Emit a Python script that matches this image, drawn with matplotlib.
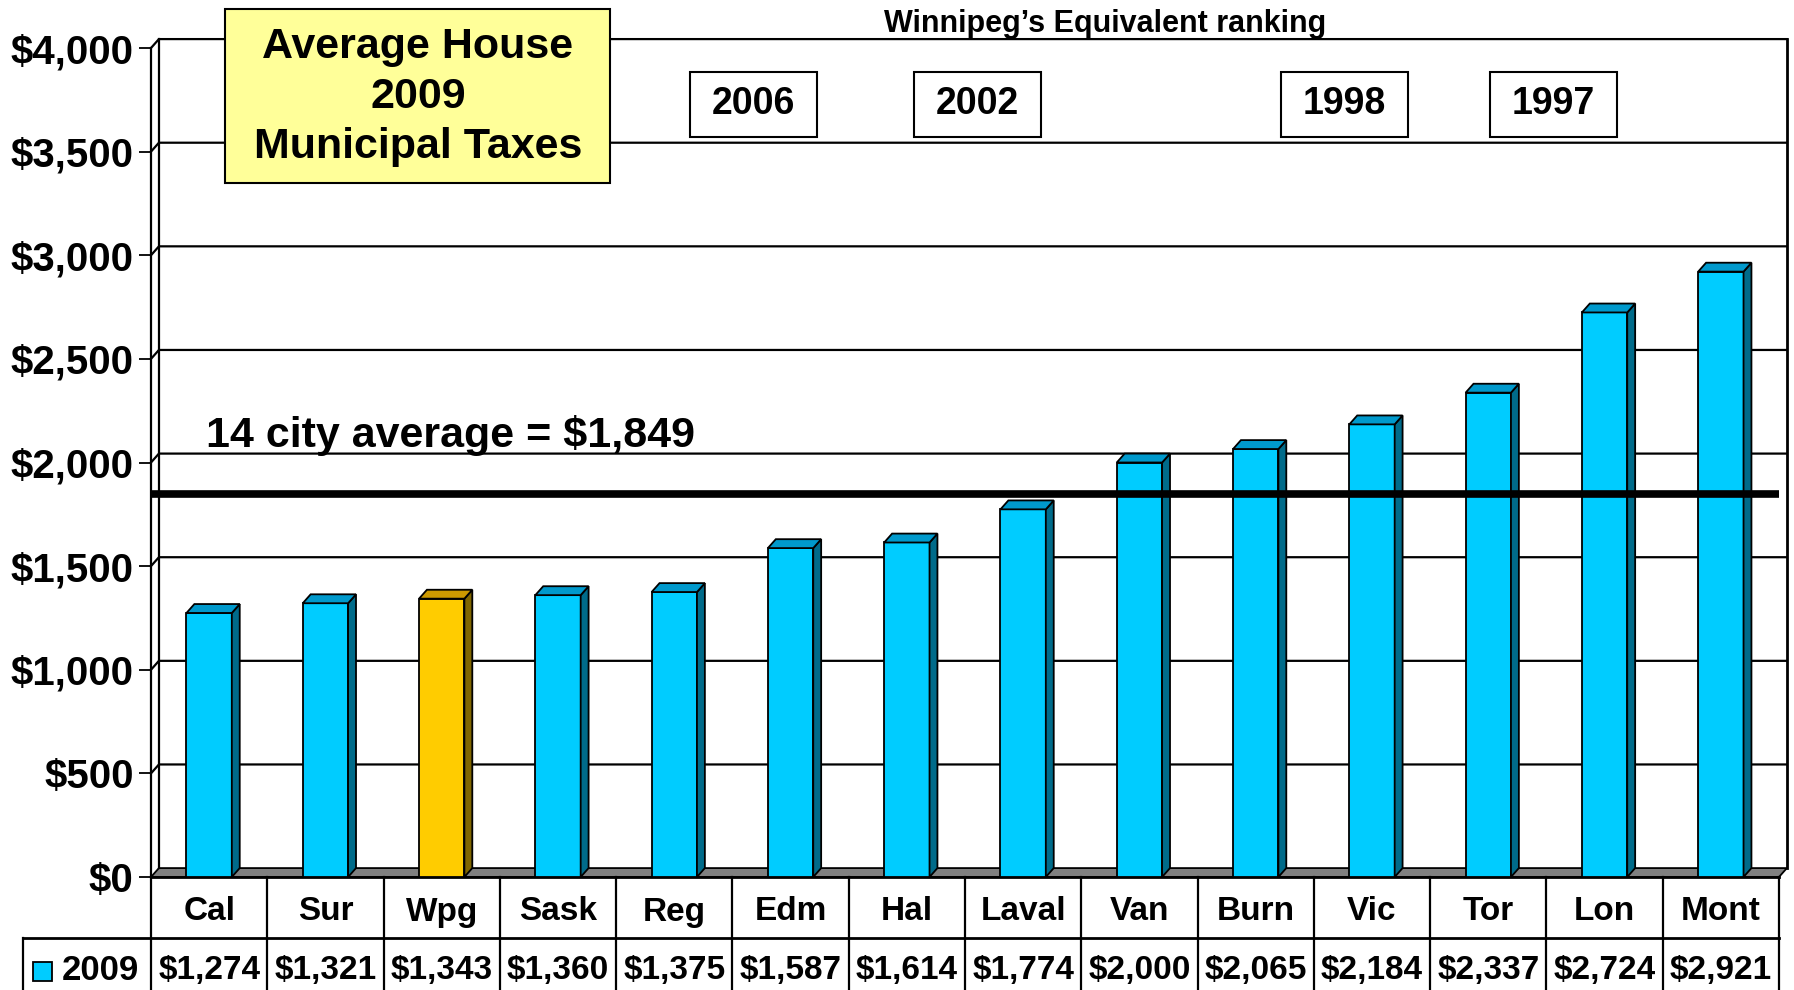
import matplotlib
matplotlib.use("Agg")
import matplotlib.pyplot as plt
from matplotlib.patches import Polygon, Rectangle

plt.rcParams['font.family'] = ['Liberation Sans', 'DejaVu Sans']
plt.rcParams['font.weight'] = 'bold'

# data
cities = ["Cal", "Sur", "Wpg", "Sask", "Reg", "Edm", "Hal", "Laval",
          "Van", "Burn", "Vic", "Tor", "Lon", "Mont"]
taxes_2009 = [1274, 1321, 1343, 1360, 1375, 1587, 1614, 1774,
              2000, 2065, 2184, 2337, 2724, 2921]
city_average = 1849
rank_years = ["2006", "2002", "1998", "1997"]
y_ticks = [0, 500, 1000, 1500, 2000, 2500, 3000, 3500, 4000]

# colours
cyan_front, cyan_side, cyan_top = "#00CCFF", "#006B8A", "#0099CC"
gold_front, gold_side, gold_top = "#FFCC00", "#806600", "#CC9900"

fig = plt.figure(figsize=(17.94, 9.90), dpi=100)
ax = fig.add_axes([151 / 1794, 113 / 990, 1628 / 1794, 829 / 990])
n = len(cities)
ax.set_xlim(-0.5, n - 0.5)
ax.set_ylim(0, 4000)
for s in ax.spines.values():
    s.set_visible(False)

# 3d depth offsets (data units)
dx, dy = 0.068, 43
xl, xr = -0.5, n - 0.5

# floor
ax.add_patch(Polygon([(xl, 0), (xr, 0), (xr + dx, dy), (xl + dx, dy)],
                     closed=True, facecolor="#808080", edgecolor="black",
                     lw=1.3, zorder=1, clip_on=False))

# back wall gridlines + left wall
for v in y_ticks[1:]:
    ax.plot([xl, xl + dx, xr + dx], [v, v + dy, v + dy], color="black",
            lw=1.6, zorder=1, clip_on=False)
ax.plot([xl, xl], [0, 4000], color="black", lw=1.6, zorder=2, clip_on=False)
ax.plot([xl + dx, xl + dx], [dy, 4000 + dy], color="black", lw=1.6,
        zorder=1, clip_on=False)
ax.plot([xr + dx, xr + dx], [dy, 4000 + dy], color="black", lw=2.0,
        zorder=1, clip_on=False)

# bars
x = list(range(n))
w = 0.39
fronts = [gold_front if c == "Wpg" else cyan_front for c in cities]
ax.bar(x, taxes_2009, width=w, color=fronts, edgecolor="black", lw=1.3,
       zorder=3)
for xi, v, c in zip(x, taxes_2009, cities):
    side = gold_side if c == "Wpg" else cyan_side
    top = gold_top if c == "Wpg" else cyan_top
    r, l = xi + w / 2, xi - w / 2
    ax.add_patch(Polygon([(r, 0), (r + dx, dy), (r + dx, v + dy), (r, v)],
                         closed=True, facecolor=side, edgecolor="black",
                         lw=1.3, zorder=3))
    ax.add_patch(Polygon([(l, v), (l + dx, v + dy), (r + dx, v + dy), (r, v)],
                         closed=True, facecolor=top, edgecolor="black",
                         lw=1.3, zorder=3, clip_on=False))

# average line
ax.plot([xl, xr + dx], [city_average, city_average], color="black", lw=5.5,
        zorder=4, solid_capstyle="butt")
ax.text(-0.03, city_average + 225, f"14 city average = ${city_average:,}",
        fontsize=31, fontweight="bold", ha="left", va="baseline", zorder=5)

# y axis ticks
ax.set_xticks([])
ax.set_yticks(y_ticks)
ax.set_yticklabels([f"${v:,}" for v in y_ticks])
ax.tick_params(axis="y", length=8.5, width=1.3, pad=4, labelsize=29)
for lab in ax.get_yticklabels():
    lab.set_fontweight("bold")

# data table below the axes
tr = ax.get_xaxis_transform()
row1 = -61 / 829
row2 = -125 / 829
leg_left = xl - 128 / (1628 / n)
ax.plot([xl, xr], [0, 0], color="black", lw=2.0, transform=tr, clip_on=False)
ax.plot([leg_left, xr], [row1, row1], color="black", lw=2.0, transform=tr,
        clip_on=False)
for k in range(n + 1):
    ax.plot([k - 0.5, k - 0.5], [0, row2], color="black", lw=1.6,
            transform=tr, clip_on=False)
ax.plot([leg_left, leg_left], [row1, row2], color="black", lw=1.6,
        transform=tr, clip_on=False)
for xi, c, v in zip(x, cities, taxes_2009):
    ax.text(xi, -35 / 829, c, transform=tr, ha="center", va="center",
            fontsize=24, fontweight="bold", clip_on=False)
    ax.text(xi, -93 / 829, f"${v:,}", transform=tr, ha="center",
            va="center", fontsize=24, fontweight="bold", clip_on=False)
# legend key
fig.patches.append(Rectangle((33 / 1794, (990 - 981) / 990), 19 / 1794,
                             19 / 990, transform=fig.transFigure,
                             facecolor=cyan_front, edgecolor="black", lw=1.3))
fig.text(62 / 1794, (990 - 970) / 990, "2009", fontsize=25,
         fontweight="bold", ha="left", va="center")

# title box
fig.patches.append(Rectangle((225 / 1794, (990 - 183) / 990), 385 / 1794,
                             174 / 990, transform=fig.transFigure,
                             facecolor="#FFFF99", edgecolor="black", lw=1.5,
                             zorder=5))
fig.text(418 / 1794, (990 - 97) / 990, "Average House\n2009\nMunicipal Taxes",
         fontsize=31, fontweight="bold", ha="center", va="center",
         linespacing=1.33, zorder=6)

# ranking header and boxes
fig.text(1105 / 1794, (990 - 24) / 990, "Winnipeg\u2019s Equivalent ranking",
         fontsize=22, fontweight="bold", ha="center", va="center")
box_centres = [753.5, 977.5, 1344.5, 1553.5]
for cx, yr in zip(box_centres, rank_years):
    fig.patches.append(Rectangle(((cx - 63.5) / 1794, (990 - 137) / 990),
                                 127 / 1794, 65 / 990,
                                 transform=fig.transFigure,
                                 facecolor="white", edgecolor="black",
                                 lw=1.5, zorder=5))
    fig.text(cx / 1794, (990 - 104.5) / 990, yr, fontsize=27,
             fontweight="bold", ha="center", va="center", zorder=6)

fig.savefig("out.png", dpi=100)
